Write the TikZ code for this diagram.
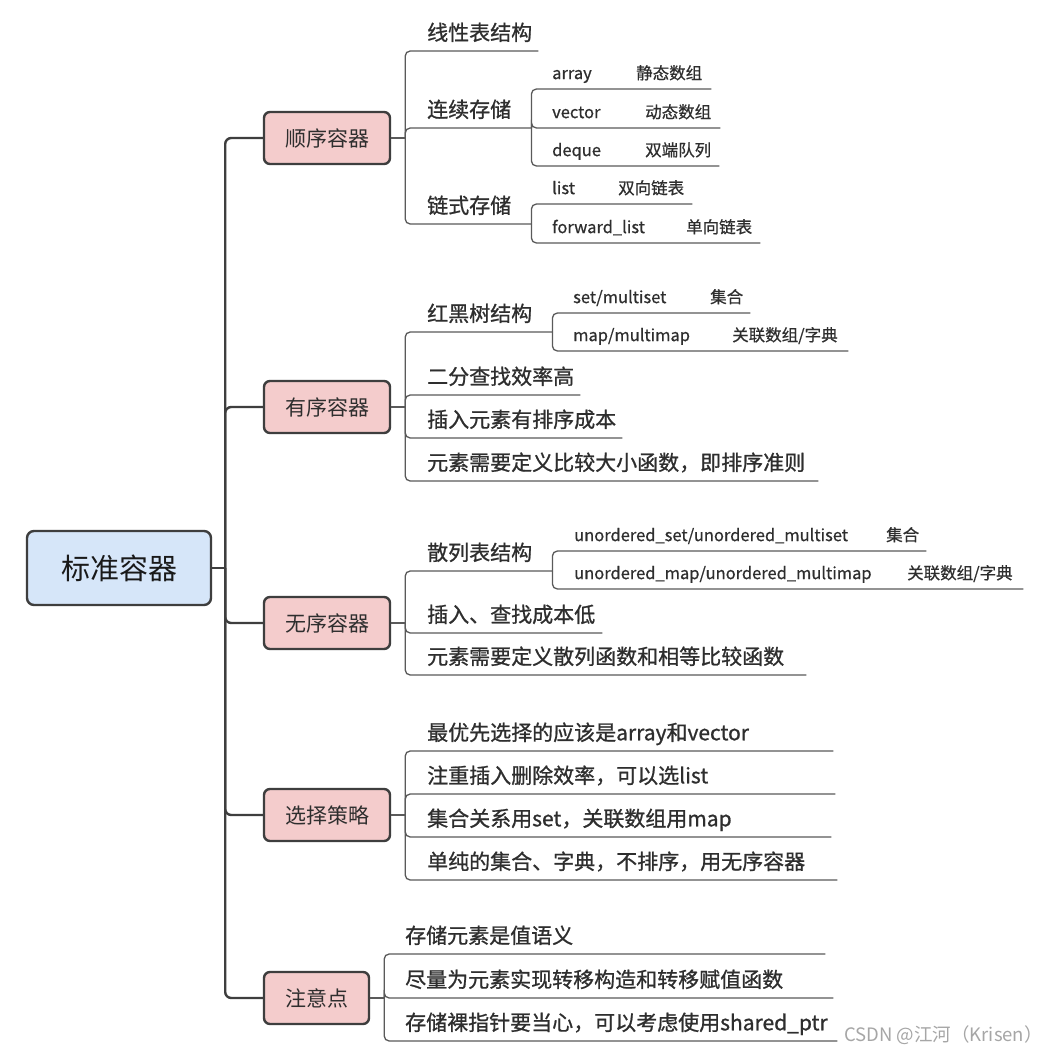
\documentclass[tikz,border=0pt]{standalone}
\usepackage{fontspec}
\setmainfont{Noto Sans CJK SC}
\newfontfamily\medfont[FakeBold=0.9]{Noto Sans CJK SC}
\newfontfamily\smfont[FakeBold=0.6]{Noto Sans CJK SC}
\usetikzlibrary{calc}
\setlength{\parindent}{0pt}
\definecolor{pinkfill}{HTML}{F4CCCC}
\definecolor{bluefill}{HTML}{D6E6F9}
\definecolor{boxline}{HTML}{3E3E3E}
\definecolor{brline}{HTML}{5A5A5A}
\definecolor{txt}{HTML}{2E2E2E}
\newcommand\pairtxt[3]{\makebox[#1][l]{#2}#3}
\begin{document}
\begin{tikzpicture}[x=1pt,y=-1pt,
  rootbox/.style={draw=boxline, line width=2.4pt, fill=bluefill, rounded corners=7pt,
    minimum width=184pt, minimum height=74pt, inner sep=0pt, text=black!90,
    font=\fontsize{29}{34}\selectfont},
  catbox/.style={draw=boxline, line width=2.4pt, fill=pinkfill, rounded corners=6pt,
    minimum width=126pt, minimum height=52pt, inner sep=0pt, text=txt,
    font=\fontsize{21}{25}\selectfont},
  lvtwo/.style={anchor=south west, inner sep=0pt, text width=#1, align=left, text=txt,
    font=\medfont\fontsize{21}{25}\selectfont, text depth=10.5pt},
  lvthree/.style={anchor=south west, inner sep=0pt, text width=#1, align=left, text=txt,
    font=\smfont\fontsize{16.5}{20}\selectfont, text depth=9.7pt},
  trunk/.style={draw=boxline, line width=2.4pt, rounded corners=6pt},
  branch/.style={draw=brline, line width=1.3pt, rounded corners=5pt},
]
\useasboundingbox (0,0) rectangle (1054,1055);
\fill[white] (0,0) rectangle (1054,1055);

% ---------- root and categories ----------
\node[rootbox] (R) at (119,568) {标准容器};
\node[catbox] (P1) at (327,138) {顺序容器};
\node[catbox] (P2) at (327,407) {有序容器};
\node[catbox] (P3) at (327,623) {无序容器};
\node[catbox] (P4) at (327,815) {选择策略};
\node[catbox, minimum width=105pt] (P5) at (316.5,998) {注意点};

\coordinate (T) at ($(R.east)+(13,0)$);
\draw[trunk] (R.east) -- (T);
\foreach \p in {P1,P2,P3,P4,P5}{
  \draw[trunk] (T) |- (\p.west);
}

\foreach \p/\s in {P1/s1,P2/s2,P3/s3,P4/s4,P5/s5}{
  \coordinate (\s) at ($(\p.east)+(14,0)$);
  \draw[branch] (\p.east) -- (\s);
}

% ---------- group 1 ----------
\node[lvtwo=111pt] (a1) at (427,51) {线性表结构};
\node[lvtwo=104pt] (a2) at (427,128) {连续存储};
\node[lvtwo=104pt] (a3) at (427,224) {链式存储};
\foreach \c in {a1,a2,a3}{\draw[branch] (s1) |- (\c.south west) -- (\c.south east);}

\node[lvthree=159pt] (b1) at (552,89) {\pairtxt{84pt}{array}{静态数组}};
\node[lvthree=168pt] (b2) at (552,128) {\pairtxt{93pt}{vector}{动态数组}};
\node[lvthree=167pt] (b3) at (552,166) {\pairtxt{93pt}{deque}{双端队列}};
\foreach \c in {b1,b2,b3}{\draw[branch] (a2.south east) |- (\c.south west) -- (\c.south east);}

\node[lvthree=140pt] (b4) at (552,204) {\pairtxt{66pt}{list}{双向链表}};
\node[lvthree=208pt] (b5) at (552,243) {\pairtxt{134pt}{forward\_list}{单向链表}};
\foreach \c in {b4,b5}{\draw[branch] (a3.south east) |- (\c.south west) -- (\c.south east);}

% ---------- group 2 ----------
\node[lvtwo=125pt] (c1) at (427,332) {红黑树结构};
\node[lvtwo=153pt] (c2) at (427,395) {二分查找效率高};
\node[lvtwo=195pt] (c3) at (427,438) {插入元素有排序成本};
\node[lvtwo=391pt] (c4) at (427,481) {元素需要定义比较大小函数，即排序准则};
\foreach \c in {c1,c2,c3,c4}{\draw[branch] (s2) |- (\c.south west) -- (\c.south east);}

\node[lvthree=177pt] (d1) at (573,313) {\pairtxt{137pt}{set/multiset}{集合}};
\node[lvthree=275pt] (d2) at (573,351) {\pairtxt{159pt}{map/multimap}{关联数组/字典}};
\foreach \c in {d1,d2}{\draw[branch] (c1.south east) |- (\c.south west) -- (\c.south east);}

% ---------- group 3 ----------
\node[lvtwo=125pt] (e1) at (427,571) {散列表结构};
\node[lvtwo=175pt] (e2) at (427,633) {插入、查找成本低};
\node[lvtwo=379pt] (e3) at (427,675) {元素需要定义散列函数和相等比较函数};
\foreach \c in {e1,e2,e3}{\draw[branch] (s3) |- (\c.south west) -- (\c.south east);}

\node[lvthree=352pt] (f1) at (574,551) {\pairtxt{312pt}{unordered\_set/unordered\_multiset}{集合}};
\node[lvthree=449pt] (f2) at (574,589) {\pairtxt{333pt}{unordered\_map/unordered\_multimap}{关联数组/字典}};
\foreach \c in {f1,f2}{\draw[branch] (e1.south east) |- (\c.south west) -- (\c.south east);}

% ---------- group 4 ----------
\node[lvtwo=406pt] (g1) at (427,751) {最优先选择的应该是array和vector};
\node[lvtwo=408pt] (g2) at (427,794) {注重插入删除效率，可以选list};
\node[lvtwo=404pt] (g3) at (427,837) {集合关系用set，关联数组用map};
\node[lvtwo=410pt] (g4) at (427,880) {单纯的集合、字典，不排序，用无序容器};
\foreach \c in {g1,g2,g3,g4}{\draw[branch] (s4) |- (\c.south west) -- (\c.south east);}

% ---------- group 5 ----------
\node[lvtwo=420pt] (h1) at (405,954) {存储元素是值语义};
\node[lvtwo=428pt] (h2) at (405,998) {尽量为元素实现转移构造和转移赋值函数};
\node[lvtwo=432pt] (h3) at (405,1041) {存储裸指针要当心，可以考虑使用shared\_ptr};
\foreach \c in {h1,h2,h3}{\draw[branch] (s5) |- (\c.south west) -- (\c.south east);}

% ---------- watermark ----------
\node[text=black!35, font=\fontsize{18.5}{22}\selectfont, anchor=west, inner sep=0pt] (wm) at (844,1035) {CSDN @江河（Krisen）};
\end{tikzpicture}
\end{document}
